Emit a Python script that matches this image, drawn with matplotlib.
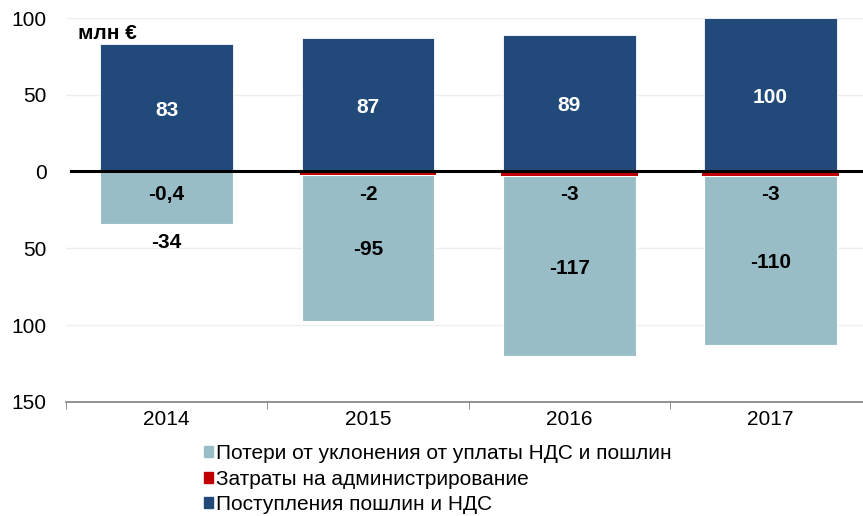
import numpy as np
import matplotlib.pyplot as plt
from matplotlib.patches import Patch

plt.rcParams['font.family'] = ['Liberation Sans', 'DejaVu Sans']

# данные (млн €)
years = ["2014", "2015", "2016", "2017"]
revenue = [83, 87, 89, 100]
admin = [-0.4, -2, -3, -3]
losses = [-34, -95, -117, -110]
revenue_lbl = ["83", "87", "89", "100"]
admin_lbl = ["-0,4", "-2", "-3", "-3"]
losses_lbl = ["-34", "-95", "-117", "-110"]

c_dark = "#214A7B"
c_light = "#98BDC7"
c_red = "#C00000"
fs = 15

fig = plt.figure(figsize=(8.63, 5.16), dpi=100)
ax = fig.add_axes([0.0765, 0.221, 0.933, 0.744])

x = np.arange(len(years))
w = 0.66

ax.bar(x, revenue, width=w, color=c_dark, edgecolor="white", linewidth=0.6, zorder=2)
ax.bar(x, losses, width=w, bottom=admin, color=c_light, edgecolor="white", linewidth=0.8, zorder=2)
ax.bar(x, admin, width=w + 0.02, color=c_red, linewidth=0, zorder=3)

# подписи значений
for i in range(len(years)):
    ax.text(x[i], revenue[i] / 2 - 1.5, revenue_lbl[i], ha="center", va="center",
            color="white", fontsize=fs, fontweight="bold", zorder=5)
    ax.text(x[i], -15, admin_lbl[i], ha="center", va="center",
            color="black", fontsize=fs, fontweight="bold", zorder=5)
    if i == 0:
        yl = admin[i] + losses[i] - 12
    else:
        yl = admin[i] + losses[i] / 2 - 1.5
    ax.text(x[i], yl, losses_lbl[i], ha="center", va="center",
            color="black", fontsize=fs, fontweight="bold", zorder=5)

ax.axhline(0.6, xmin=0.006, color="black", linewidth=2.2, zorder=4)
for g in [100, 50, -50, -100]:
    ax.axhline(g, color="#EEEEEE", linewidth=1, zorder=0)

ax.set_xlim(-0.5, 3.5)
ax.set_ylim(-150, 100)
ax.set_yticks([100, 50, 0, -50, -100, -150])
ax.set_yticklabels(["100", "50", "0", "50", "100", "150"], fontsize=fs)
ax.tick_params(axis="y", length=0, pad=14)

ax.set_xticks(x)
ax.set_xticklabels(years, fontsize=fs)
ax.set_xticks([-0.5, 0.5, 1.5, 2.5], minor=True)
ax.tick_params(axis="x", which="major", length=0, pad=6)
ax.tick_params(axis="x", which="minor", length=5, color="#808080", direction="out")

for s in ["top", "right", "left"]:
    ax.spines[s].set_visible(False)
ax.spines["bottom"].set_color("#808080")
ax.spines["bottom"].set_linewidth(1.2)

ax.text(0.015, 0.985, "млн €", transform=ax.transAxes, fontsize=fs,
        fontweight="bold", ha="left", va="top")

handles = [Patch(color=c_light), Patch(color=c_red), Patch(color=c_dark)]
labels = ["Потери от уклонения от уплаты НДС и пошлин",
          "Затраты на администрирование",
          "Поступления пошлин и НДС"]
fig.legend(handles, labels, loc="upper left", bbox_to_anchor=(0.224, 0.16),
           frameon=False, fontsize=fs, handlelength=0.45, handleheight=0.45,
           handletextpad=0.15, labelspacing=0.32, borderpad=0)

fig.savefig("out.png", dpi=100)
